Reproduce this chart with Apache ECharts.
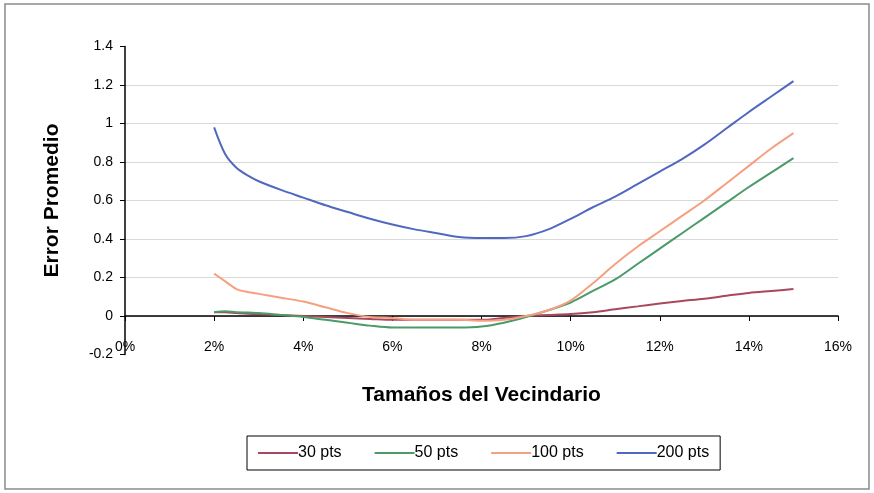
<!DOCTYPE html>
<html>
<head>
<meta charset="utf-8">
<script src="https://cdn.jsdelivr.net/npm/echarts@6/dist/echarts.min.js"></script>
<style>
    html, body { margin: 0; padding: 0; background: #fff; }
    #chart { width: 874px; height: 493px; }
</style>
</head>
<body>
<div id="chart"></div>
<script>
// tamaño del vecindario (%)
const xPct = [2, 2.25, 2.5, 2.75, 3, 3.5, 4, 4.5, 5, 5.5, 6, 6.5, 7, 7.5, 8, 8.5, 9, 9.5, 10, 10.5, 11, 11.5, 12, 12.5, 13, 13.5, 14, 14.5, 15]

// error promedio por cantidad de puntos
const pts30 = [0.02, 0.02, 0.015, 0.012, 0.01, 0.005, 0, -0.005, -0.01, -0.015, -0.02, -0.02, -0.02, -0.02, -0.02, -0.01, 0, 0.005, 0.01, 0.02, 0.035, 0.05, 0.065, 0.078, 0.09, 0.105, 0.12, 0.13, 0.14]
const pts50 = [0.02, 0.025, 0.02, 0.018, 0.015, 0.005, -0.005, -0.02, -0.035, -0.05, -0.06, -0.06, -0.06, -0.06, -0.055, -0.035, -0.005, 0.03, 0.07, 0.13, 0.19, 0.27, 0.35, 0.43, 0.51, 0.59, 0.67, 0.745, 0.82]
const pts100 = [0.22, 0.18, 0.14, 0.125, 0.115, 0.095, 0.075, 0.045, 0.015, -0.005, -0.01, -0.02, -0.02, -0.02, -0.025, -0.02, 0, 0.03, 0.08, 0.17, 0.27, 0.36, 0.44, 0.52, 0.6, 0.69, 0.78, 0.87, 0.95]
const pts200 = [0.98, 0.84, 0.77, 0.73, 0.7, 0.655, 0.615, 0.575, 0.54, 0.505, 0.475, 0.45, 0.43, 0.41, 0.405, 0.405, 0.415, 0.45, 0.505, 0.565, 0.62, 0.685, 0.75, 0.815, 0.89, 0.975, 1.06, 1.14, 1.22]

const seriesNames = ['30 pts', '50 pts', '100 pts', '200 pts']
const seriesValues = [pts30, pts50, pts100, pts200]
const colors = ['#a8485e', '#4a9a6a', '#f5a080', '#5068c0']

const font = '"Liberation Sans", Arial, sans-serif'

const chart = echarts.init(document.getElementById('chart'))

const series = seriesNames.map((name, i) => ({
    name,
    type: 'line',
    symbol: 'none',
    smooth: 0.3,
    lineStyle: { color: colors[i], width: 2 },
    itemStyle: { color: colors[i] },
    data: xPct.map((x, j) => [x, seriesValues[i][j]])
}))

chart.setOption({
    animation: false,
    textStyle: { fontFamily: font },
    graphic: [{
        type: 'rect',
        shape: { x: 5, y: 4, width: 864, height: 485 },
        style: { fill: 'none', stroke: '#8a8a8a', lineWidth: 1.5 },
        silent: true
    }],
    grid: {
        left: 125,
        right: 36,
        top: 46.5,
        bottom: 138.5,
        containLabel: false
    },
    legend: {
        data: seriesNames,
        left: 247,
        top: 436,
        icon: 'rect',
        itemWidth: 40,
        itemHeight: 2,
        itemGap: 33,
        padding: [9, 11],
        borderColor: '#000',
        borderWidth: 1,
        textStyle: { fontFamily: font, fontSize: 16, color: '#000', padding: [0, 0, 0, -5] }
    },
    xAxis: {
        type: 'value',
        min: 0,
        max: 16,
        interval: 2,
        name: 'Tamaños del Vecindario',
        nameLocation: 'middle',
        nameGap: 30,
        nameTextStyle: { fontFamily: font, fontSize: 21, fontWeight: 'bold', color: '#000' },
        axisLine: { onZero: true, lineStyle: { color: '#000', width: 1.5 } },
        axisTick: { show: true, length: 5, lineStyle: { color: '#000' } },
        axisLabel: {
            margin: -14,
            fontSize: 14,
            color: '#000',
            formatter: v => v + '%'
        },
        splitLine: { show: false }
    },
    yAxis: {
        type: 'value',
        min: -0.2,
        max: 1.4,
        interval: 0.2,
        name: 'Error Promedio',
        nameLocation: 'middle',
        nameGap: 62,
        nameTextStyle: { fontFamily: font, fontSize: 21, fontWeight: 'bold', color: '#000' },
        axisLine: { show: true, onZero: false, lineStyle: { color: '#000', width: 1.5 } },
        axisTick: { show: true, length: 5, lineStyle: { color: '#000' } },
        axisLabel: {
            margin: 12,
            fontSize: 14,
            color: '#000',
            formatter: v => String(Math.round(v * 10) / 10)
        },
        splitLine: {
            show: true,
            showMinLine: false,
            showMaxLine: false,
            lineStyle: { color: '#d9d9d9', width: 1 }
        }
    },
    series
})
</script>
</body>
</html>
